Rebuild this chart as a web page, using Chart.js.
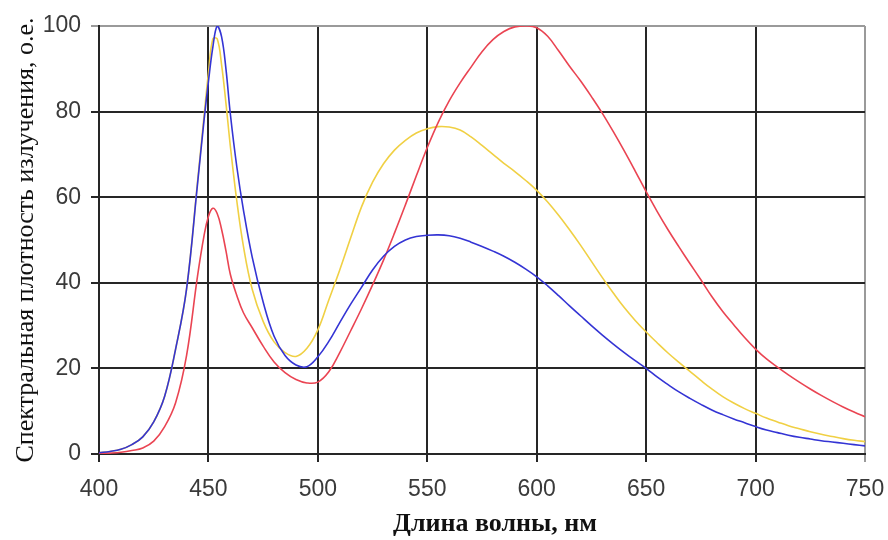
<!DOCTYPE html>
<html>
<head>
<meta charset="utf-8">
<script src="https://cdn.jsdelivr.net/npm/chart.js@4.4.1/dist/chart.umd.min.js"></script>
<style>
  html, body { margin: 0; padding: 0; background: #ffffff; }
  #wrap { width: 888px; height: 540px; }
</style>
</head>
<body>
<div id="wrap"><canvas id="c" width="888" height="540"></canvas></div>
<script>
// Wavelengths, nm
const wavelengths = [400,405,410,415,420,425,430,435,440,445,448,450,452,454,456,458,460,463,466,470,475,480,485,490,495,500,505,510,515,520,525,530,535,540,545,550,555,560,565,570,575,580,585,590,595,600,605,610,615,620,625,630,635,640,645,650,655,660,665,670,675,680,685,690,695,700,705,710,715,720,725,730,735,740,745,750];

// Blue curve
const blueSeries = [0.3,0.6,1.1,2.2,4,7.5,13.5,24.5,38.5,63,78,87,95,100,97.5,90,79.5,67,57,46,35.5,27.5,23,20.8,20.4,22.7,26.3,30.7,35,39,43,46.2,48.5,50,50.8,51.1,51.2,51,50.4,49.5,48.5,47.4,46.2,44.8,43.2,41.4,39.3,37,34.6,32.3,30,27.8,25.7,23.7,21.8,20,18,16.2,14.5,13,11.6,10.3,9.2,8.2,7.3,6.4,5.6,5,4.4,3.9,3.5,3.1,2.8,2.5,2.2,1.9];

// Yellow curve
const yellowSeries = [0.3,0.6,1.1,2.2,4,7.5,13.5,24.5,38.5,63.5,79,89,97,97,91,82,72,59,48.5,38.5,31,26.2,23.7,22.8,24.7,29,36,43,50.5,57.8,63.5,67.8,71,73.3,75,76,76.5,76.4,75.7,74.1,72.1,70,67.9,66,63.9,61.6,58.9,55.8,52.4,48.8,45,41.2,37.6,34.2,31.2,28.5,26,23.6,21.4,19.3,17.2,15.2,13.4,11.9,10.6,9.5,8.4,7.5,6.6,5.9,5.2,4.6,4.1,3.6,3.2,2.9];

// Red curve
const redSeries = [0.1,0.2,0.4,0.8,1.4,3,6.4,12,23,41.5,51,55.5,57.4,56.2,52.5,47.5,42,37,33,29.5,25.2,21.5,19,17.4,16.6,16.8,19.2,23.7,28.8,34,39.5,45.3,51.6,58.2,65,71.6,77.5,82.5,86.7,90.4,94,96.8,98.7,99.8,100,99.6,97.6,94.2,90.6,87.2,83.5,79.6,75.3,70.8,66.1,61.3,56.7,52.4,48.4,44.5,40.7,36.8,33.3,30.2,27.2,24.5,22.2,20.3,18.5,16.8,15.2,13.7,12.3,11,9.8,8.7];

// Axis ticks
const xTicks = [400,450,500,550,600,650,700,750];
const yTicks = [0,20,40,60,80,100];

const xTitle = '\u00a0\u00a0\u00a0\u00a0Длина волны, нм';
const yTitle = 'Спектральная плотность излучения, о.е.';

function pts(ys) { return wavelengths.map((w, i) => ({ x: w, y: ys[i] })); }

const gridColor = (ctx) => {
  if (ctx.tick && ((ctx.scale.axis === 'y' && ctx.tick.value === 100) || (ctx.scale.axis === 'x' && ctx.tick.value === 750))) return '#9a9a9a';
  return '#262626';
};

new Chart(document.getElementById('c'), {
  type: 'line',
  data: {
    datasets: [
      { data: pts(blueSeries), borderColor: '#3434d4', borderWidth: 1.6 },
      { data: pts(redSeries), borderColor: '#ea4452', borderWidth: 1.6 },
      { data: pts(yellowSeries), borderColor: '#f0d044', borderWidth: 1.6 }
    ]
  },
  options: {
    responsive: false,
    devicePixelRatio: 1,
    animation: false,
    layout: { padding: { left: 0, right: 23, top: 26, bottom: 0 } },
    elements: {
      point: { radius: 0 },
      line: { tension: 0.4, fill: false }
    },
    plugins: { legend: { display: false }, tooltip: { enabled: false } },
    scales: {
      x: {
        type: 'linear', min: 400, max: 750,
        afterFit: (s) => { s.height = 86; s.paddingRight = 10; s.paddingLeft = 0; },
        afterBuildTicks: (s) => { s.ticks = xTicks.map(v => ({ value: v })); },
        ticks: { font: { family: 'Liberation Sans', size: 23 }, color: '#3a3a3a', padding: 14 },
        grid: { color: gridColor, lineWidth: 2, tickLength: 8, drawTicks: true },
        border: { color: '#262626', width: 2 },
        title: { display: true, text: xTitle, font: { family: 'Liberation Serif', size: 26, weight: 'bold' }, color: '#111', padding: { top: 0, bottom: 0 } }
      },
      y: {
        min: 0, max: 100,
        afterFit: (s) => { s.width = 99; },
        afterBuildTicks: (s) => { s.ticks = yTicks.map(v => ({ value: v })); },
        ticks: { font: { family: 'Liberation Sans', size: 23 }, color: '#3a3a3a', padding: 10 },
        grid: { color: gridColor, lineWidth: 2, tickLength: 8, drawTicks: true },
        border: { color: '#262626', width: 2 },
        title: { display: true, text: yTitle, font: { family: 'Liberation Serif', size: 26 }, color: '#111', padding: { top: 11, bottom: 0 } }
      }
    }
  }
});
</script>
</body>
</html>
